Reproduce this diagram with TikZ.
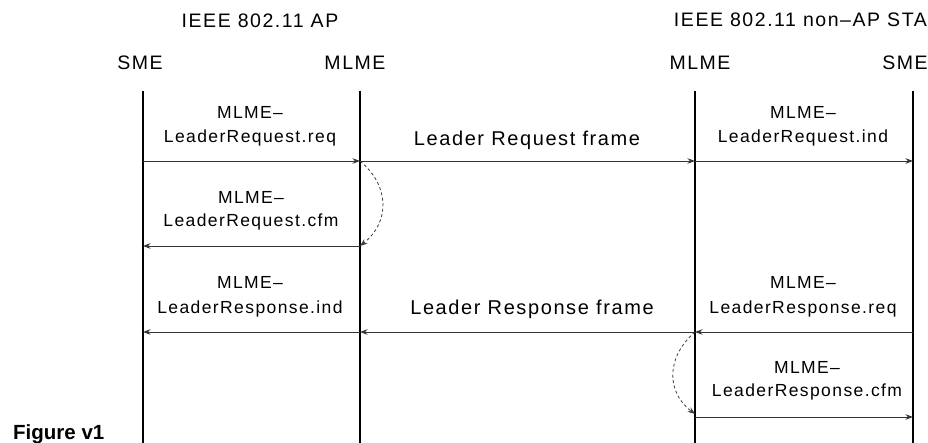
\documentclass[tikz,border=0pt]{standalone}
\usepackage{fontspec}
\setmainfont{Liberation Sans}[LetterSpace=8]
\newfontfamily\capfont{Liberation Sans}
\usetikzlibrary{arrows.meta}
\begin{document}
\begin{tikzpicture}[x=1pt,y=-1pt,
  lifeline/.style={line width=2.6pt,black},
  msg/.style={line width=0.9pt,draw=black!80,-{Stealth[length=7.5pt,width=5.5pt]}},
  selfmsg/.style={line width=0.8pt,draw=black!75,dashed,dash pattern=on 3pt off 2.5pt,-{Stealth[length=7.5pt,width=5.5pt]}},
  head/.style={font=\fontsize{19.5}{24}\selectfont,anchor=base,inner sep=0pt},
  prim/.style={font=\fontsize{17.5}{21}\selectfont,anchor=base,inner sep=0pt},
  frm/.style={font=\fontsize{20}{24}\selectfont,anchor=base,inner sep=0pt},
  figcaption/.style={font=\capfont\fontsize{20.5}{24}\selectfont\bfseries,anchor=base west,inner sep=0pt}]
\useasboundingbox (0,0) rectangle (928,443);
% headers
\node[head] (apH) at (260,28) {IEEE 802.11 AP};
\node[head,anchor=base east] (staH) at (927,27) {IEEE 802.11 non–AP STA};
\node[head] (sme1) at (140,70) {SME};
\node[head] (mlme1) at (355,70) {MLME};
\node[head] (mlme2) at (700,70) {MLME};
\node[head] (sme2) at (905,70) {SME};
% lifelines
\coordinate (L1t) at (143,91); \coordinate (L1b) at (143,443);
\coordinate (L2t) at (360,91); \coordinate (L2b) at (360,443);
\coordinate (L3t) at (695,91); \coordinate (L3b) at (695,443);
\coordinate (L4t) at (913,91); \coordinate (L4b) at (913,443);
\draw[lifeline] (L1t) -- (L1b);
\draw[lifeline] (L2t) -- (L2b);
\draw[lifeline] (L3t) -- (L3b);
\draw[lifeline] (L4t) -- (L4b);
% message endpoints
\coordinate (a1) at (143,161); \coordinate (a2) at (360,161);
\coordinate (a3) at (695,161); \coordinate (a4) at (913,161);
\coordinate (b1) at (143,246); \coordinate (b2) at (360,246);
\coordinate (c1) at (143,332); \coordinate (c2) at (360,332);
\coordinate (c3) at (695,332); \coordinate (c4) at (913,332);
\coordinate (d3) at (695,417); \coordinate (d4) at (913,417);
\coordinate (d3e) at (695,414);
% messages
\draw[msg] (a1) -- (a2);
\draw[msg] (a2) -- (a3);
\draw[msg] (a3) -- (a4);
\draw[selfmsg] (a2) .. controls (390,186) and (390,222) .. (b2);
\draw[msg] (b2) -- (b1);
\draw[msg] (c2) -- (c1);
\draw[msg] (c3) -- (c2);
\draw[msg] (c4) -- (c3);
\draw[selfmsg] (c3) .. controls (666,357) and (666,392) .. (d3e);
\draw[msg] (d3) -- (d4);
% labels
\node[prim] (t1a) at (250,119) {MLME–};
\node[prim] (t1b) at (250,143) {LeaderRequest.req};
\node[frm] (f1) at (527,146) {Leader Request frame};
\node[prim] (t2a) at (803,119) {MLME–};
\node[prim] (t2b) at (803,143) {LeaderRequest.ind};
\node[prim] (t3a) at (251,204) {MLME–};
\node[prim] (t3b) at (251,227) {LeaderRequest.cfm};
\node[prim] (t4a) at (250,289) {MLME–};
\node[prim] (t4b) at (250,313) {LeaderResponse.ind};
\node[frm] (f2) at (532,315) {Leader Response frame};
\node[prim] (t5a) at (803,289) {MLME–};
\node[prim] (t5b) at (803,313) {LeaderResponse.req};
\node[prim] (t6a) at (807,373) {MLME–};
\node[prim] (t6b) at (807,396) {LeaderResponse.cfm};
\node[figcaption] (fig) at (13,439) {Figure v1};
\end{tikzpicture}
\end{document}
